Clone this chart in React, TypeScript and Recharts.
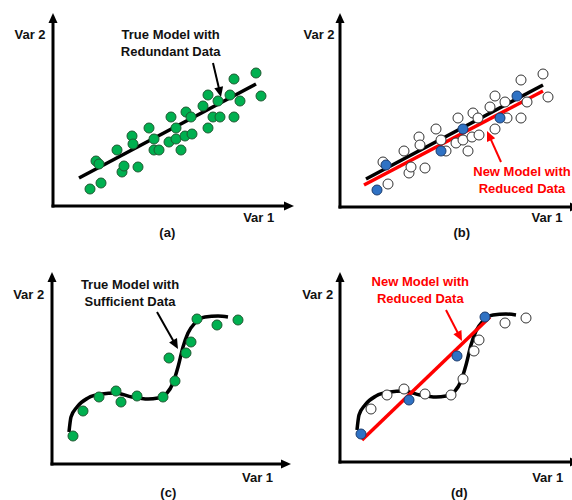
import React from "react";
import { ComposedChart, Line, ReferenceLine, Scatter, XAxis, YAxis } from "recharts";

// readings, in each panel's own Var 1 / Var 2 units
const redundantVar1 = [37, 48, 43, 46, 64, 69, 71, 85, 79, 80, 96, 101, 101, 106, 118, 123, 116, 123, 128, 133, 138, 132, 139, 150, 155, 155, 160, 165, 167, 177, 181, 187, 181, 203, 208];
const redundantVar2 = [17, 23, 45, 42, 56, 34, 40, 39, 70, 62, 78, 67, 56, 56, 89, 78, 64, 67, 56, 94, 89, 70, 72, 100, 111, 78, 89, 105, 89, 111, 127, 105, 89, 133, 110];
const keptLinear = [0, 3, 12, 15, 26, 29];

const trueLineVar1 = [26, 203];
const trueLineVar2 = [28, 122];
const newLineVar1 = [24, 203];
const newLineVar2 = [22, 116];

const sufficientVar1 = [21, 31, 47, 64, 69, 85, 111, 123, 117, 134, 139, 145, 165, 186];
const sufficientVar2 = [28, 53, 67, 73, 62, 68, 67, 83, 106, 111, 122, 145, 139, 144];
const keptCurve = [0, 4, 8, 11];

const curveVar1 = [17, 19, 25, 36, 50, 63, 80, 96, 106, 115, 121, 126, 131, 136, 143, 153, 166, 176];
const curveVar2 = [32, 47, 57, 66, 70, 71, 67, 65, 66, 71, 81, 97, 117, 131, 141, 147, 148, 147];
const newCurveFitVar1 = [22, 150];
const newCurveFitVar2 = [22, 145];

const zip = (xs: number[], ys: number[]) => xs.map((x, i) => ({ x, y: ys[i] }));

const redundant = zip(redundantVar1, redundantVar2);
const redundantKept = redundant.filter((_, i) => keptLinear.includes(i));
const redundantDropped = redundant.filter((_, i) => !keptLinear.includes(i));
const sufficient = zip(sufficientVar1, sufficientVar2);
const sufficientKept = sufficient.filter((_, i) => keptCurve.includes(i));
const sufficientDropped = sufficient.filter((_, i) => !keptCurve.includes(i));

const GREEN = "#00b050";
const BLUE = "#2f72c4";
const RED = "#ff0000";
const FONT = '"Liberation Sans", Arial, sans-serif';

type Frame = { axisX: number; axisY: number; xTip: number; yTip: number };

const arrow = (color: string, width: number, head: number, half: number, cap = "butt") => (p: any) => {
  const { x1, y1, x2, y2 } = p;
  const dx = x2 - x1;
  const dy = y2 - y1;
  const len = Math.hypot(dx, dy) || 1;
  const ux = dx / len;
  const uy = dy / len;
  const bx = x2 - ux * head;
  const by = y2 - uy * head;
  return (
    <g>
      <line x1={x1} y1={y1} x2={bx + ux} y2={by + uy} stroke={color} strokeWidth={width} strokeLinecap={cap as any} />
      <polygon
        points={`${x2},${y2} ${bx - uy * half},${by + ux * half} ${bx + uy * half},${by - ux * half}`}
        fill={color}
      />
    </g>
  );
};

const dot = (fill: string, stroke: string) => (p: any) => (
  <circle cx={p.cx} cy={p.cy} r={5} fill={fill} stroke={stroke} strokeWidth={1} />
);

function Panel({ frame, children }: { frame: Frame; children: React.ReactNode }) {
  const pad = 12;
  const w = frame.xTip - frame.axisX;
  const h = frame.axisY - frame.yTip;
  return (
    <div style={{ position: "absolute", left: frame.axisX - pad, top: frame.yTip - pad }}>
      <ComposedChart width={w + 2 * pad} height={h + 2 * pad} margin={{ top: pad, right: pad, bottom: pad, left: pad }}>
        <XAxis type="number" dataKey="x" domain={[0, w]} hide allowDataOverflow />
        <YAxis type="number" dataKey="y" domain={[0, h]} hide allowDataOverflow />
        <ReferenceLine segment={[{ x: 0, y: 0 }, { x: w, y: 0 }]} ifOverflow="visible" shape={arrow("#000", 3, 10, 4.5, "square")} />
        <ReferenceLine segment={[{ x: 0, y: 0 }, { x: 0, y: h }]} ifOverflow="visible" shape={arrow("#000", 3, 10, 4.5, "square")} />
        {children}
      </ComposedChart>
    </div>
  );
}

function Note({ x, y, lines, color = "#111" }: { x: number; y: number; lines: string[]; color?: string }) {
  return (
    <div
      style={{
        position: "absolute",
        left: x,
        top: y,
        transform: "translate(-50%, -50%)",
        fontFamily: FONT,
        fontWeight: 700,
        fontSize: 13,
        lineHeight: "16.7px",
        textAlign: "center",
        whiteSpace: "nowrap",
        color,
      }}
    >
      {lines.map((l) => (
        <div key={l}>{l}</div>
      ))}
    </div>
  );
}

const A: Frame = { axisX: 53, axisY: 206, xTip: 294, yTip: 13 };
const B: Frame = { axisX: 340, axisY: 207, xTip: 580, yTip: 13 };
const C: Frame = { axisX: 52, axisY: 464, xTip: 291, yTip: 272 };
const D: Frame = { axisX: 340, axisY: 462, xTip: 580, yTip: 272 };

export default function App() {
  return (
    <div style={{ position: "absolute", left: 0, top: 0, width: 572, height: 500, overflow: "hidden", background: "#fff" }}>
      <Panel frame={A}>
        <Scatter data={redundant} shape={dot(GREEN, "#1f5a32")} isAnimationActive={false} />
        <Line data={zip(trueLineVar1, trueLineVar2)} dataKey="y" type="linear" stroke="#000" strokeWidth={3.5} dot={false} isAnimationActive={false} />
        <ReferenceLine segment={[{ x: 160, y: 143 }, { x: 168, y: 109 }]} ifOverflow="visible" shape={arrow("#000", 2, 10, 4.5)} />
      </Panel>

      <Panel frame={B}>
        <Scatter data={redundantDropped} shape={dot("#fff", "#333")} isAnimationActive={false} />
        <Line data={zip(trueLineVar1, trueLineVar2)} dataKey="y" type="linear" stroke="#000" strokeWidth={3.5} dot={false} isAnimationActive={false} />
        <Line data={zip(newLineVar1, newLineVar2)} dataKey="y" type="linear" stroke={RED} strokeWidth={3.5} dot={false} isAnimationActive={false} />
        <Scatter data={redundantKept} shape={dot(BLUE, "#1d3d6e")} isAnimationActive={false} />
        <ReferenceLine segment={[{ x: 161, y: 45 }, { x: 147, y: 76 }]} ifOverflow="visible" shape={arrow(RED, 2, 10, 4.5)} />
      </Panel>

      <Panel frame={C}>
        <Scatter data={sufficient} shape={dot(GREEN, "#1f5a32")} isAnimationActive={false} />
        <Line data={zip(curveVar1, curveVar2)} dataKey="y" type="monotone" stroke="#000" strokeWidth={3.5} dot={false} isAnimationActive={false} />
        <ReferenceLine segment={[{ x: 105, y: 152 }, { x: 126, y: 115 }]} ifOverflow="visible" shape={arrow("#000", 2, 10, 4.5)} />
      </Panel>

      <Panel frame={D}>
        <Scatter data={sufficientDropped} shape={dot("#fff", "#333")} isAnimationActive={false} />
        <Line data={zip(curveVar1, curveVar2)} dataKey="y" type="monotone" stroke="#000" strokeWidth={3.5} dot={false} isAnimationActive={false} />
        <Scatter data={sufficientKept} shape={dot(BLUE, "#1d3d6e")} isAnimationActive={false} />
        <Line data={zip(newCurveFitVar1, newCurveFitVar2)} dataKey="y" type="linear" stroke={RED} strokeWidth={3.5} dot={false} isAnimationActive={false} />
        <ReferenceLine segment={[{ x: 106, y: 152 }, { x: 122, y: 121 }]} ifOverflow="visible" shape={arrow(RED, 2, 10, 4.5)} />
      </Panel>

      <Note x={30} y={35} lines={["Var 2"]} />
      <Note x={170.7} y={44.4} lines={["True Model with", "Redundant Data"]} />
      <Note x={258.7} y={218.3} lines={["Var 1"]} />
      <Note x={167.3} y={233.3} lines={["(a)"]} />

      <Note x={319} y={35} lines={["Var 2"]} />
      <Note x={522} y={180.8} lines={["New Model with", "Reduced Data"]} color={RED} />
      <Note x={547} y={218.3} lines={["Var 1"]} />
      <Note x={461.7} y={233.3} lines={["(b)"]} />

      <Note x={28.7} y={295} lines={["Var 2"]} />
      <Note x={130} y={294.4} lines={["True Model with", "Sufficient Data"]} />
      <Note x={257.5} y={478.3} lines={["Var 1"]} />
      <Note x={168.3} y={493.3} lines={["(c)"]} />

      <Note x={317.7} y={295} lines={["Var 2"]} />
      <Note x={420.3} y={291} lines={["New Model with", "Reduced Data"]} color={RED} />
      <Note x={547.7} y={478.3} lines={["Var 1"]} />
      <Note x={459.3} y={493} lines={["(d)"]} />
    </div>
  );
}
